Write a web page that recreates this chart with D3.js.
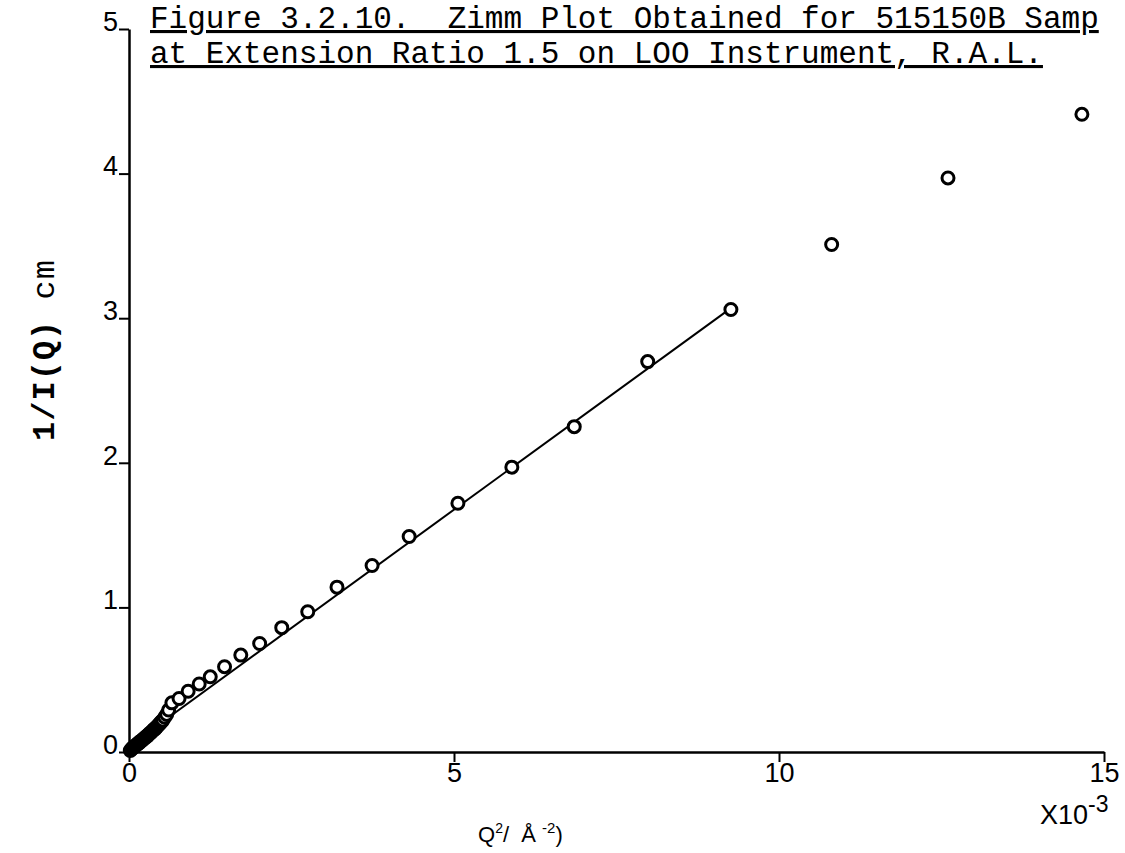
<!DOCTYPE html>
<html>
<head>
<meta charset="utf-8">
<script src="https://cdn.jsdelivr.net/npm/d3@7"></script>
<style>
  body { margin: 0; background: #fff; }
  svg { display: block; }
  .title { font-family: "Liberation Mono", monospace; font-size: 31px; white-space: pre; text-decoration: underline; }
  .tick text { font-family: "Liberation Sans", sans-serif; font-size: 27px; fill: #000; }
</style>
</head>
<body>
<div id="chart-area"></div>
<script>
// Q^2 values (x 10^-3 A^-2) and 1/I(Q) (cm)
var q2 = [0.02, 0.04, 0.06, 0.08, 0.10, 0.12, 0.14, 0.16, 0.18, 0.20,
          0.22, 0.24, 0.26, 0.28, 0.30, 0.32, 0.34, 0.36, 0.38, 0.40,
          0.42, 0.44, 0.46, 0.48, 0.50, 0.52, 0.55, 0.58, 0.61,
          0.66, 0.77, 0.91, 1.08, 1.25, 1.47, 1.72, 2.01, 2.35, 2.75,
          3.20, 3.74, 4.31, 5.06, 5.89, 6.85, 7.98, 9.26, 10.81, 12.60, 14.66];
var invI = [0.01, 0.02, 0.03, 0.035, 0.045, 0.05, 0.06, 0.065, 0.075, 0.08,
            0.09, 0.095, 0.105, 0.11, 0.12, 0.13, 0.135, 0.145, 0.155, 0.16,
            0.17, 0.18, 0.19, 0.20, 0.21, 0.22, 0.24, 0.26, 0.29,
            0.34, 0.37, 0.42, 0.47, 0.52, 0.59, 0.67, 0.75, 0.86, 0.97,
            1.14, 1.29, 1.49, 1.72, 1.97, 2.25, 2.70, 3.06, 3.51, 3.97, 4.41];

// fitted straight line, end points
var fitQ2 = [0, 9.26];
var fitInvI = [0.04, 3.07];

var xTicks = [0, 5, 10, 15];
var yTicks = [0, 1, 2, 3, 4, 5];

var titleLines = ["Figure 3.2.10.  Zimm Plot Obtained for 515150B Samp",
                  "at Extension Ratio 1.5 on LOO Instrument, R.A.L."];

var W = 1125, H = 853;
var margin = { left: 129, right: 21, top: 29, bottom: 101 };

var svg = d3.select("#chart-area")
    .append("svg")
        .attr("width", W)
        .attr("height", H);

var x = d3.scaleLinear().domain([0, 15]).range([margin.left, W - margin.right]);
var y = d3.scaleLinear().domain([0, 5]).range([H - margin.bottom, margin.top]);

// Title
svg.selectAll("text.title")
    .data(titleLines)
    .enter().append("text")
        .attr("class", "title")
        .attr("x", 150)
        .attr("y", function(d, i){ return 28 + i * 35; })
        .text(function(d){ return d; });

// X axis
var xAxis = svg.append("g")
    .attr("transform", "translate(0," + y(0) + ")")
    .call(d3.axisBottom(x).tickValues(xTicks).tickFormat(d3.format("d"))
        .tickSize(10).tickSizeOuter(0).tickPadding(1));
xAxis.select(".domain").attr("stroke-width", 2.5);
xAxis.selectAll(".tick line").attr("stroke-width", 2);

// Y axis
var yAxis = svg.append("g")
    .attr("transform", "translate(" + x(0) + ",0)")
    .call(d3.axisLeft(y).tickValues(yTicks).tickFormat(d3.format("d"))
        .tickSize(10).tickSizeOuter(0));
yAxis.select(".domain").attr("stroke-width", 2.5);
yAxis.selectAll(".tick line").attr("stroke-width", 2);
yAxis.selectAll(".tick text").attr("x", -11).attr("dy", "0.05em");

// x10^-3 multiplier
var mult = svg.append("text")
    .attr("x", 1040)
    .attr("y", 824)
    .attr("font-family", "Liberation Sans, sans-serif")
    .attr("font-size", 27);
mult.append("tspan").text("X10");
mult.append("tspan").attr("dy", -12).attr("font-size", 23).text("-3");

// X label
var xl = svg.append("text")
    .attr("x", 478)
    .attr("y", 842)
    .attr("font-family", "Liberation Sans, sans-serif")
    .attr("font-size", 22)
    .style("white-space", "pre");
xl.append("tspan").text("Q");
xl.append("tspan").attr("dy", -9).attr("font-size", 14).text("2");
xl.append("tspan").attr("dy", 9).text("/  Å ");
xl.append("tspan").attr("dy", -9).attr("font-size", 15).text("-2");
xl.append("tspan").attr("dy", 9).text(")");

// Y label
var yl = svg.append("text")
    .attr("transform", "translate(54,350) rotate(-90)")
    .attr("text-anchor", "middle")
    .attr("font-family", "Liberation Mono, monospace")
    .attr("font-size", 32)
    .attr("letter-spacing", 1)
    .style("white-space", "pre");
yl.append("tspan").attr("font-weight", "bold").text("1/I(Q) ");
yl.append("tspan").text("cm");

// Fitted line
svg.append("line")
    .attr("x1", x(fitQ2[0])).attr("y1", y(fitInvI[0]))
    .attr("x2", x(fitQ2[1])).attr("y2", y(fitInvI[1]))
    .attr("stroke", "#000")
    .attr("stroke-width", 2);

// Points
svg.selectAll("circle")
    .data(q2)
    .enter().append("circle")
        .attr("cx", function(d){ return x(d); })
        .attr("cy", function(d, i){ return y(invI[i]); })
        .attr("r", 6)
        .attr("fill", "#fff")
        .attr("stroke", "#000")
        .attr("stroke-width", 3);
</script>
</body>
</html>
